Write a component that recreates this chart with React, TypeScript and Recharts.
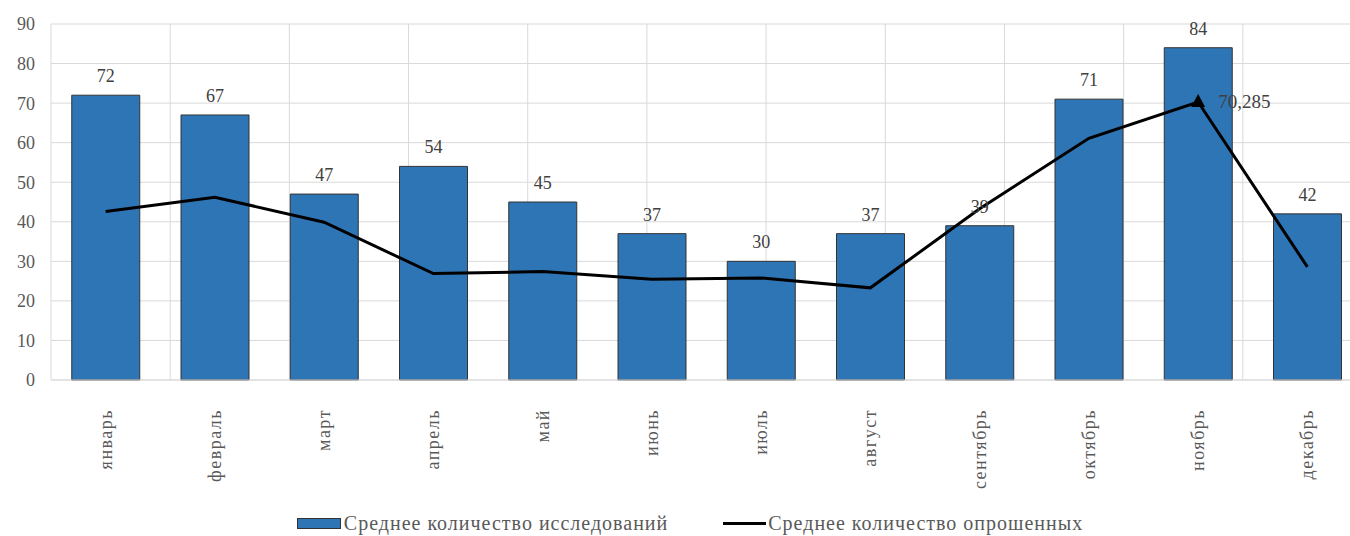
import React from "react";
import {
  Bar,
  CartesianGrid,
  ComposedChart,
  LabelList,
  Legend,
  Line,
  XAxis,
  YAxis,
} from "recharts";

const months = [
  "январь",
  "февраль",
  "март",
  "апрель",
  "май",
  "июнь",
  "июль",
  "август",
  "сентябрь",
  "октябрь",
  "ноябрь",
  "декабрь",
];
const studies = [72, 67, 47, 54, 45, 37, 30, 37, 39, 71, 84, 42];
const respondents = [42.6, 46.2, 39.9, 26.9, 27.4, 25.5, 25.8, 23.3, 43.3, 61.1, 70.285, 28.6];
const yTicks = [0, 10, 20, 30, 40, 50, 60, 70, 80, 90];
const gridTicks = [0, 1, 2, 3, 4, 5, 6, 7, 8, 9, 10, 11, 12];
const markedIndex = 10;

const data = months.map((m, i) => ({
  month: m,
  studies: studies[i],
  respondents: respondents[i],
}));

const FONT = '"Times New Roman", "Liberation Serif", Tinos, "DejaVu Serif", serif';

function MonthTick({ x, y, payload }: any) {
  return (
    <g transform={`translate(${x},${y})`}>
      <text
        transform="rotate(-90)"
        x={-21}
        y={0}
        dy={6}
        textAnchor="end"
        fill="#595959"
        fontSize={18}
        letterSpacing={1.5}
        style={{ fontFamily: FONT }}
      >
        {payload.value}
      </text>
    </g>
  );
}

function TriangleDot({ cx, cy, index }: any) {
  if (index !== markedIndex) return <g key={`d${index}`} />;
  return (
    <path
      key={`d${index}`}
      d={`M${cx},${cy - 8} L${cx + 7},${cy + 5} L${cx - 7},${cy + 5} Z`}
      fill="#000"
    />
  );
}

function RespLabel({ x, y, index, value }: any) {
  if (index !== markedIndex) return null;
  return (
    <text x={x + 20} y={y + 6} fill="#404040" fontSize={19} style={{ fontFamily: FONT }}>
      {String(value).replace(".", ",")}
    </text>
  );
}

function ChartLegend() {
  return (
    <div
      style={{
        display: "flex",
        justifyContent: "center",
        alignItems: "center",
        fontFamily: FONT,
        fontSize: 20,
        letterSpacing: 1,
        color: "#595959",
        height: 26,
        paddingLeft: 30,
      }}
    >
      <span
        style={{
          display: "inline-block",
          width: 42,
          height: 9,
          background: "#2E75B6",
          border: "1px solid #333",
          marginRight: 3,
        }}
      />
      <span>Среднее количество исследований</span>
      <span
        style={{
          display: "inline-block",
          width: 43,
          height: 3,
          background: "#000",
          marginLeft: 55,
          marginRight: 2,
        }}
      />
      <span>Среднее количество опрошенных</span>
    </div>
  );
}

export default function App() {
  return (
    <div
      style={{
        position: "absolute",
        left: 0,
        top: 0,
        width: 1350,
        height: 536,
        overflow: "hidden",
        background: "#fff",
        fontFamily: FONT,
      }}
    >
      <ComposedChart
        width={1372}
        height={536}
        data={data}
        margin={{ top: 24, right: 10, bottom: 10, left: 0 }}
        barCategoryGap="19%"
        style={{ fontFamily: FONT }}
      >
        <CartesianGrid stroke="#d9d9d9" xAxisId="grid" />
        <XAxis
          dataKey="month"
          interval={0}
          height={120}
          tick={<MonthTick />}
          tickLine={false}
          axisLine={{ stroke: "#d9d9d9" }}
        />
        <XAxis xAxisId="grid" type="number" domain={[0, 12]} ticks={gridTicks} hide />
        <YAxis
          width={51}
          domain={[0, 90]}
          ticks={yTicks}
          interval={0}
          tickLine={false}
          axisLine={false}
          tick={{ fill: "#595959", fontSize: 18, style: { fontFamily: FONT } }}
          tickMargin={10}
        />
        <Legend
          verticalAlign="bottom"
          content={<ChartLegend />}
          wrapperStyle={{ top: 510, left: 0, width: 1350 }}
        />
        <Bar
          dataKey="studies"
          fill="#2E75B6"
          stroke="#333"
          strokeWidth={1}
          isAnimationActive={false}
        >
          <LabelList
            dataKey="studies"
            position="top"
            offset={13}
            fill="#404040"
            fontSize={18}
            style={{ fontFamily: FONT }}
          />
        </Bar>
        <Line
          dataKey="respondents"
          type="linear"
          stroke="#000"
          strokeWidth={3}
          dot={<TriangleDot />}
          activeDot={false}
          isAnimationActive={false}
        >
          <LabelList dataKey="respondents" content={<RespLabel />} />
        </Line>
      </ComposedChart>
    </div>
  );
}
